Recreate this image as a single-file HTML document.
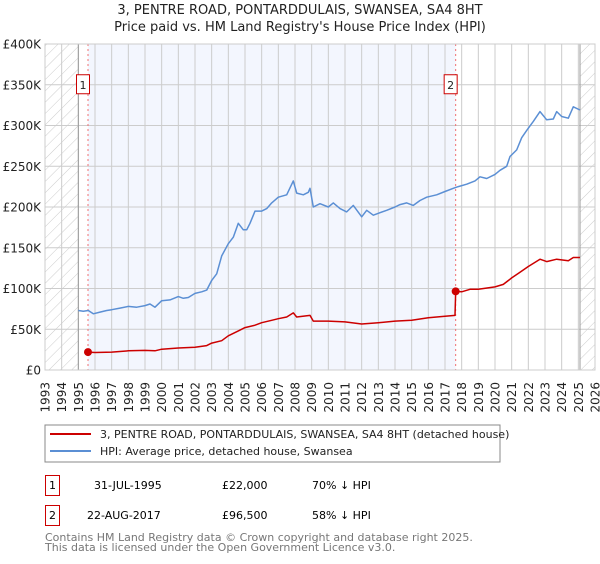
<!DOCTYPE html>
<html><head><meta charset="utf-8"><style>
body{margin:0;background:#fff;width:600px;height:560px;overflow:hidden;font-family:"DejaVu Sans","Liberation Sans",sans-serif}
svg text{font-family:"DejaVu Sans","Liberation Sans",sans-serif}
</style></head><body>
<svg id="c" width="600" height="560" xmlns="http://www.w3.org/2000/svg">
<defs><pattern id="hatch" width="8" height="8" patternUnits="userSpaceOnUse" patternTransform="rotate(45)"><line x1="0" y1="0" x2="0" y2="8" stroke="#ccc" stroke-width="1"/></pattern></defs>
<text x="300" y="14" text-anchor="middle" font-size="13" fill="#222">3, PENTRE ROAD, PONTARDDULAIS, SWANSEA, SA4 8HT</text>
<text x="300" y="31" text-anchor="middle" font-size="13" fill="#222">Price paid vs. HM Land Registry's House Price Index (HPI)</text>
<g id="plot"></g>
<rect x="45" y="425" width="455" height="37" fill="#fff" stroke="#888"/>
<line x1="50" y1="434" x2="91" y2="434" stroke="#cc0000" stroke-width="2"/>
<text x="100" y="438" font-size="11" fill="#222">3, PENTRE ROAD, PONTARDDULAIS, SWANSEA, SA4 8HT (detached house)</text>
<line x1="50" y1="451" x2="91" y2="451" stroke="#5b8fd4" stroke-width="2"/>
<text x="100" y="455" font-size="11" fill="#222">HPI: Average price, detached house, Swansea</text>
<g>
<rect x="45.5" y="475.5" width="14" height="20" fill="#fff" stroke="#c00"/>
<text x="52.5" y="489" text-anchor="middle" font-size="11">1</text>
<text x="94" y="489" font-size="11">31-JUL-1995</text>
<text x="222" y="489" font-size="11">£22,000</text>
<text x="312" y="489" font-size="11">70% ↓ HPI</text></g>
<g>
<rect x="45.5" y="505.5" width="14" height="20" fill="#fff" stroke="#c00"/>
<text x="52.5" y="519" text-anchor="middle" font-size="11">2</text>
<text x="87" y="519" font-size="11">22-AUG-2017</text>
<text x="222" y="519" font-size="11">£96,500</text>
<text x="312" y="519" font-size="11">58% ↓ HPI</text></g>
<text x="45" y="541" font-size="11" fill="#777">Contains HM Land Registry data © Crown copyright and database right 2025.</text>
<text x="45" y="551" font-size="11" fill="#777">This data is licensed under the Open Government Licence v3.0.</text>
</svg>
<script>
const yTicks=[0,50,100,150,200,250,300,350,400];
const yTickLabels=["£0","£50K","£100K","£150K","£200K","£250K","£300K","£350K","£400K"];
const xYears=[1993,1994,1995,1996,1997,1998,1999,2000,2001,2002,2003,2004,2005,2006,2007,2008,2009,2010,2011,2012,2013,2014,2015,2016,2017,2018,2019,2020,2021,2022,2023,2024,2025,2026];
const hpiYears=[1995.0,1995.3,1995.6,1995.9,1996.3,1996.7,1997,1997.5,1998,1998.5,1999,1999.3,1999.6,2000,2000.5,2001,2001.3,2001.6,2002,2002.4,2002.7,2003,2003.3,2003.6,2004,2004.3,2004.6,2004.9,2005.1,2005.3,2005.6,2006,2006.3,2006.6,2007,2007.5,2007.9,2008.1,2008.5,2008.8,2008.9,2009.1,2009.5,2010,2010.3,2010.7,2011.1,2011.5,2012,2012.3,2012.7,2013.1,2013.5,2014,2014.3,2014.7,2015.1,2015.5,2015.9,2016.5,2017,2017.5,2017.8,2018.3,2018.8,2019.1,2019.5,2020,2020.3,2020.7,2020.9,2021.3,2021.6,2021.9,2022.3,2022.7,2023.1,2023.5,2023.7,2024,2024.4,2024.7,2025.1];
const hpiValues=[73,72,73,69,71,73,74,76,78,77,79,81,77,85,86,90,88,89,94,96,98,110,118,140,155,163,180,172,172,180,195,195,198,205,212,215,232,217,215,218,223,200,204,200,205,198,194,202,188,196,190,193,196,200,203,205,202,208,212,215,219,223,225,228,232,237,235,240,245,250,262,270,285,294,305,317,307,308,317,311,309,323,319];
const priceYears=[1995.58,1996,1997,1998,1999,1999.6,2000,2001,2002,2002.7,2003,2003.6,2004,2004.6,2005,2005.6,2006,2006.6,2007,2007.5,2007.9,2008.1,2008.9,2009.1,2010,2011,2012,2013,2014,2015,2016,2017,2017.6,2017.64,2018,2018.5,2019,2020,2020.5,2021,2021.5,2022,2022.7,2023.1,2023.7,2024.4,2024.7,2025.1];
const priceValues=[22,21.5,22,23.5,24,23.5,25.5,27,28,30,33,36,42,48,52,55,58,61,63,65,70,65,67,60,60,59,56.5,58,60,61,64,66,67,96.5,96,99,99,102,105,113,120,127,136,133,136,134,138,138];
const saleYears=[1995.58,2017.64];
const saleValues=[22,96.5];
const saleLabels=["1","2"];
const X0=45,X1=595,Y0=370,Y1=44;
const xs=y=>X0+(y-1993)/33*(X1-X0);
const ys=v=>Y0-v/400*(Y0-Y1);
const NS="http://www.w3.org/2000/svg";
const g=document.getElementById('plot');
function mk(t,a,p){const e=document.createElementNS(NS,t);for(const k in a)e.setAttribute(k,a[k]);(p||g).appendChild(e);return e;}
let e;
e=mk('rect',{x:X0,y:Y1,width:X1-X0,height:Y0-Y1,fill:'#fff'});


e=mk('rect',{x:xs(saleYears[0]),y:Y1,width:xs(saleYears[1])-xs(saleYears[0]),height:Y0-Y1,fill:'#f3f6fe'});


e=mk('rect',{x:X0,y:Y1,width:xs(1995)-X0,height:Y0-Y1,fill:'url(#hatch)'});


e=mk('rect',{x:xs(2025.1),y:Y1,width:X1-xs(2025.1),height:Y0-Y1,fill:'url(#hatch)'});


yTicks.forEach((v,i)=>{
 e=mk('line',{x1:X0,x2:X1,y1:ys(v),y2:ys(v),stroke:'#ccc','stroke-width':1});
 
 
 e=mk('text',{x:X0-4,y:ys(v)+4.5,'text-anchor':'end','font-size':12,fill:'#222'});e.textContent=yTickLabels[i];
 
 
});
xYears.forEach(yr=>{
 e=mk('line',{x1:xs(yr),x2:xs(yr),y1:Y1,y2:Y0,stroke:'#ccc','stroke-width':1});
 
 
 e=mk('text',{x:0,y:0,'text-anchor':'end','font-size':12,fill:'#222',transform:`translate(${xs(yr)+4.5},${Y0+12}) rotate(-90)`});e.textContent=yr;
 
 
});
e=mk('line',{x1:xs(1995),x2:xs(1995),y1:Y1,y2:Y0,stroke:'#999'});


e=mk('line',{x1:xs(2025.1),x2:xs(2025.1),y1:Y1,y2:Y0,stroke:'#999'});


saleYears.forEach((yr,i)=>{
 e=mk('line',{x1:xs(yr),x2:xs(yr),y1:Y1,y2:Y0,stroke:'#f07070','stroke-dasharray':'2,3'});
 
 
});
const pts=(a,b)=>a.map((y,i)=>xs(y).toFixed(1)+','+ys(b[i]).toFixed(1)).join(' ');
e=mk('polyline',{points:pts(hpiYears,hpiValues),fill:'none',stroke:'#5b8fd4','stroke-width':1.5,'stroke-linejoin':'round'});


e=mk('polyline',{points:pts(priceYears,priceValues),fill:'none',stroke:'#cc0000','stroke-width':1.5,'stroke-linejoin':'round'});


saleYears.forEach((yr,i)=>{
 e=mk('circle',{cx:xs(yr),cy:ys(saleValues[i]),r:4,fill:'#cc0000'});
 
 
 e=mk('rect',{x:xs(yr)-11.5,y:ys(350)-10,width:13,height:19,fill:'#fff',stroke:'#c00'});
 
 
 e=mk('text',{x:xs(yr)-5,y:ys(350)+4,'text-anchor':'middle','font-size':11,fill:'#222'});e.textContent=saleLabels[i];
 
 
});
e=mk('rect',{x:X0,y:Y1,width:X1-X0,height:Y0-Y1,fill:'none',stroke:'#ccc'});


</script>
</body></html>
